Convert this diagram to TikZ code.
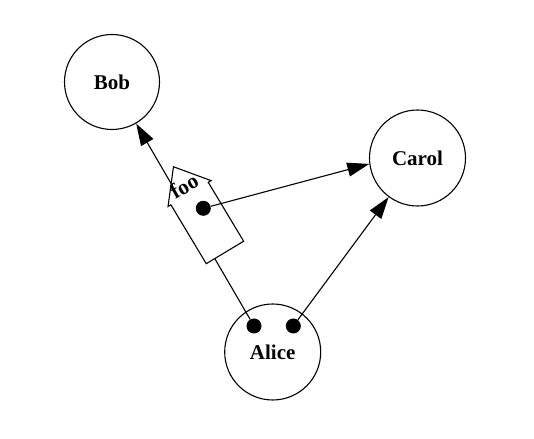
\documentclass[tikz,border=0pt]{standalone}
\usepackage{fontspec}
\setmainfont{Liberation Serif}
\usetikzlibrary{arrows.meta,shapes.arrows}
\begin{document}
\begin{tikzpicture}[x=1pt,y=1pt,
  person/.style={circle,draw,line width=1.1pt,minimum size=95pt,inner sep=0pt,
    font=\fontsize{21}{25}\selectfont\bfseries},
  port/.style={circle,fill=black,minimum size=15pt,inner sep=0pt},
  flag/.style={single arrow,draw,fill=white,line width=1.1pt,inner sep=0pt,
    minimum height=100pt,minimum width=0pt,single arrow head extend=3.3pt,
    single arrow tip angle=77.5,rotate=121},
  flaglabel/.style={font=\fontsize{21.5}{25}\selectfont\bfseries,inner sep=0pt,rotate=30},
  link/.style={line width=1.1pt,-{Triangle[length=22pt,width=14pt]}}]
\useasboundingbox (0,0) rectangle (534,438);
\node[person] (bob) at (112,356) {Bob};
\node[person,minimum size=96pt] (carol) at (417.5,280) {Carol};
\node[person,minimum size=96pt] (alice) at (272.7,86) {Alice};
\node[port] (a1) at (254,112) {};
\node[port] (a2) at (293.3,112) {};
\draw[link] (a1) -- (bob);
\draw[link] (a2) -- (carol);
\node[flag,anchor=tip] (foo) at (173,272) {\rule{0pt}{42.5pt}};
\node[flaglabel] (foolabel) at (184,252) {foo};
\node[port] (fdot) at (203.3,229.7) {};
\draw[link] (fdot) -- (carol.187);
\end{tikzpicture}
\end{document}
